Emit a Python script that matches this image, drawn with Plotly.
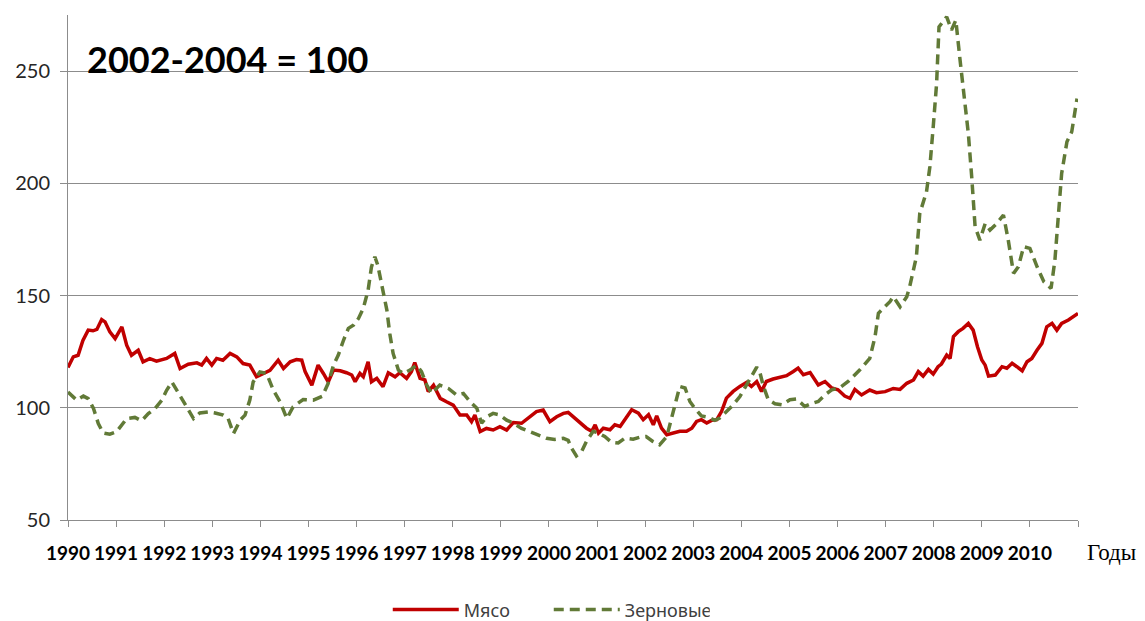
import plotly.graph_objects as go

# ---- data (decimal years, index 2002-2004 = 100) ----
meat_t = [1990.00, 1990.11, 1990.21, 1990.31, 1990.42, 1990.52, 1990.60, 1990.70, 1990.77, 1990.87,
          1990.98, 1991.12, 1991.22, 1991.32, 1991.46, 1991.56, 1991.70, 1991.84, 1992.05, 1992.22,
          1992.33, 1992.50, 1992.68, 1992.78, 1992.88, 1992.99, 1993.09, 1993.22, 1993.37, 1993.51,
          1993.64, 1993.78, 1993.92, 1994.06, 1994.20, 1994.37, 1994.48, 1994.62, 1994.75, 1994.86,
          1994.93, 1995.07, 1995.20, 1995.31, 1995.41, 1995.52, 1995.66, 1995.79, 1995.90, 1995.97,
          1996.07, 1996.14, 1996.24, 1996.31, 1996.42, 1996.55, 1996.66, 1996.80, 1996.90, 1997.04,
          1997.14, 1997.21, 1997.32, 1997.42, 1997.49, 1997.60, 1997.74, 1997.87, 1998.01, 1998.15,
          1998.29, 1998.39, 1998.46, 1998.57, 1998.70, 1998.84, 1998.98, 1999.12, 1999.26, 1999.43,
          1999.60, 1999.74, 1999.88, 2000.02, 2000.16, 2000.30, 2000.40, 2000.50, 2000.64, 2000.78,
          2000.89, 2000.96, 2001.03, 2001.13, 2001.27, 2001.37, 2001.48, 2001.58, 2001.72, 2001.86,
          2001.96, 2002.07, 2002.17, 2002.24, 2002.34, 2002.45, 2002.59, 2002.72, 2002.86, 2002.97,
          2003.07, 2003.17, 2003.28, 2003.38, 2003.49, 2003.59, 2003.69, 2003.83, 2003.97, 2004.11,
          2004.21, 2004.32, 2004.42, 2004.52, 2004.66, 2004.80, 2004.94, 2005.08, 2005.18, 2005.29,
          2005.43, 2005.60, 2005.74, 2005.88, 2006.01, 2006.15, 2006.26, 2006.36, 2006.50, 2006.67,
          2006.81, 2006.99, 2007.16, 2007.30, 2007.44, 2007.58, 2007.68, 2007.78, 2007.89, 2007.99,
          2008.09, 2008.16, 2008.27, 2008.34, 2008.41, 2008.51, 2008.61, 2008.72, 2008.82, 2008.91,
          2009.00, 2009.07, 2009.14, 2009.28, 2009.42, 2009.52, 2009.63, 2009.73, 2009.84, 2009.94,
          2010.04, 2010.15, 2010.25, 2010.35, 2010.46, 2010.56, 2010.66, 2010.80, 2010.91, 2011.00]
meat_v = [118.0, 122.7, 123.4, 130.0, 134.6, 134.3, 134.9, 139.3, 138.3, 133.8,
          130.8, 136.0, 127.9, 123.4, 125.6, 120.5, 121.9, 120.8, 122.0, 124.2,
          117.5, 119.4, 120.0, 119.0, 122.0, 119.0, 122.0, 121.2, 124.2, 122.7,
          119.7, 119.0, 113.8, 115.3, 116.7, 121.2, 117.5, 120.5, 121.5, 121.2,
          116.1, 110.1, 119.0, 115.3, 111.5, 116.8, 116.5, 115.6, 114.6, 111.6,
          115.3, 113.8, 120.5, 111.6, 113.1, 109.4, 115.6, 113.8, 115.6, 113.1,
          116.1, 120.1, 113.1, 112.4, 107.2, 110.1, 104.2, 102.7, 101.2, 96.8,
          96.8, 93.8, 96.8, 89.4, 90.8, 90.1, 91.6, 90.1, 93.4, 93.1,
          96.0, 98.3, 99.0, 93.8, 96.0, 97.5, 97.9, 96.1, 93.5, 90.9,
          89.5, 92.4, 88.7, 90.9, 90.2, 92.4, 91.7, 94.7, 99.1, 97.6,
          94.7, 96.9, 92.4, 96.4, 90.9, 88.0, 88.7, 89.5, 89.5, 90.9,
          93.9, 94.7, 93.2, 94.4, 94.7, 98.4, 104.3, 107.3, 109.5, 111.3,
          109.5, 111.7, 107.3, 111.7, 112.8, 113.5, 114.3, 116.2, 117.7, 114.7,
          115.7, 110.2, 111.7, 108.8, 108.0, 105.2, 104.2, 108.2, 105.7, 107.9,
          106.7, 107.2, 108.6, 108.2, 110.9, 112.4, 116.1, 114.1, 117.1, 115.0,
          118.3, 119.5, 123.5, 122.0, 131.7, 133.9, 135.4, 137.6, 134.6, 127.2,
          121.3, 119.0, 114.1, 114.6, 118.3, 117.6, 119.8, 118.3, 116.5, 120.5,
          122.0, 125.7, 128.7, 136.1, 137.6, 134.6, 137.6, 139.1, 140.6, 142.0]

grain_t = [1990.00, 1990.18, 1990.32, 1990.42, 1990.53, 1990.63, 1990.73, 1990.87, 1991.01, 1991.12,
           1991.22, 1991.39, 1991.53, 1991.67, 1991.81, 1991.95, 1992.05, 1992.16, 1992.26, 1992.36,
           1992.47, 1992.61, 1992.74, 1992.92, 1993.06, 1993.23, 1993.33, 1993.44, 1993.58, 1993.68,
           1993.78, 1993.85, 1993.99, 1994.13, 1994.27, 1994.41, 1994.55, 1994.68, 1994.89, 1995.10,
           1995.29, 1995.41, 1995.52, 1995.62, 1995.73, 1995.83, 1995.94, 1996.04, 1996.14, 1996.24,
           1996.31, 1996.38, 1996.44, 1996.52, 1996.63, 1996.69, 1996.76, 1996.87, 1996.97, 1997.11,
           1997.25, 1997.35, 1997.46, 1997.56, 1997.73, 1997.91, 1998.08, 1998.22, 1998.36, 1998.50,
           1998.60, 1998.71, 1998.84, 1998.98, 1999.12, 1999.26, 1999.43, 1999.60, 1999.78, 1999.95,
           2000.12, 2000.30, 2000.40, 2000.47, 2000.57, 2000.68, 2000.78, 2000.92, 2001.03, 2001.16,
           2001.30, 2001.44, 2001.58, 2001.75, 2001.89, 2002.02, 2002.16, 2002.30, 2002.45, 2002.55,
           2002.62, 2002.72, 2002.83, 2002.93, 2003.03, 2003.17, 2003.31, 2003.45, 2003.55, 2003.69,
           2003.83, 2003.97, 2004.11, 2004.21, 2004.32, 2004.39, 2004.46, 2004.56, 2004.70, 2004.84,
           2005.01, 2005.15, 2005.32, 2005.45, 2005.60, 2005.74, 2005.88, 2006.05, 2006.22, 2006.46,
           2006.67, 2006.78, 2006.85, 2006.95, 2007.09, 2007.16, 2007.30, 2007.44, 2007.50, 2007.64,
           2007.71, 2007.85, 2007.92, 2007.99, 2008.06, 2008.11, 2008.27, 2008.37, 2008.46, 2008.54,
           2008.65, 2008.72, 2008.79, 2008.86, 2008.96, 2009.07, 2009.17, 2009.31, 2009.45, 2009.55,
           2009.66, 2009.76, 2009.87, 2010.00, 2010.15, 2010.29, 2010.44, 2010.52, 2010.59, 2010.66,
           2010.77, 2010.87, 2010.98]
grain_v = [107.0, 103.4, 105.2, 104.1, 99.7, 93.0, 88.8, 88.2, 89.3, 92.2,
           95.2, 95.7, 94.2, 97.4, 99.7, 103.4, 107.8, 111.5, 107.8, 104.8,
           100.4, 95.2, 97.7, 98.2, 97.7, 96.7, 95.2, 88.5, 94.5, 96.7,
           103.4, 111.5, 116.0, 115.3, 107.8, 102.6, 95.2, 100.4, 103.7, 103.4,
           105.2, 110.9, 119.0, 123.5, 130.2, 135.4, 136.9, 139.8, 144.3, 152.4,
           162.8, 167.3, 163.6, 155.4, 143.5, 133.1, 124.2, 116.8, 115.3, 116.8,
           119.0, 116.1, 110.1, 106.4, 110.1, 108.6, 105.7, 106.4, 102.7, 99.8,
           93.1, 96.0, 97.5, 96.8, 94.5, 93.1, 90.8, 89.4, 87.9, 86.4,
           85.9, 86.4, 85.5, 82.0, 78.6, 80.5, 85.0, 89.5, 88.7, 87.2,
           84.6, 84.3, 86.5, 86.0, 86.9, 87.2, 85.0, 83.5, 87.2, 95.4,
           101.3, 109.5, 108.8, 102.8, 99.9, 96.4, 95.8, 94.4, 95.4, 98.4,
           101.3, 105.0, 110.2, 114.0, 118.1, 115.4, 109.5, 103.6, 101.8, 101.3,
           103.6, 103.9, 100.6, 101.8, 102.8, 105.8, 108.0, 109.0, 111.7, 116.8,
           122.0, 131.7, 142.1, 144.3, 147.3, 149.5, 145.0, 149.5, 153.9, 167.3,
           186.6, 196.2, 207.4, 225.2, 244.5, 269.7, 274.2, 268.3, 272.7, 256.4,
           237.1, 222.2, 202.9, 180.7, 174.7, 182.1, 179.2, 182.1, 185.9, 174.7,
           159.9, 162.8, 171.8, 171.0, 162.8, 156.2, 153.2, 165.8, 185.1, 204.4,
           218.5, 223.0, 237.8]

series_names = ["Мясо", "Зерновые"]
year_ticks = list(range(1990, 2012))
year_labels = [str(y) for y in range(1990, 2011)] + [""]
y_ticks = [50, 100, 150, 200, 250]
base_note = "2002-2004 = 100"
x_title = "Годы"

fig = go.Figure()
fig.add_trace(go.Scatter(x=meat_t, y=meat_v, mode="lines", name=series_names[0],
                         line=dict(color="#C00000", width=3.5)))
fig.add_trace(go.Scatter(x=grain_t, y=grain_v, mode="lines", name=series_names[1],
                         line=dict(color="#617A37", width=3.5, dash="10px,6px")))

# page body has an 8px default margin, so the figure is 8px smaller and offset
fig.update_layout(
    width=1137, height=613,
    margin=dict(l=60, r=67, t=7, b=101, autoexpand=False),
    plot_bgcolor="white", paper_bgcolor="white",
    showlegend=True,
    legend=dict(orientation="h", x=0.476, xanchor="center", y=-0.178, yanchor="middle",
                font=dict(family="Noto Sans", size=18, color="#404040"),
                itemwidth=66, entrywidth=80, traceorder="normal"),
    xaxis=dict(range=[1990, 2011], tickmode="array", tickvals=year_ticks, ticktext=year_labels,
               showgrid=False, zeroline=False, showline=True, linecolor="#8C8C8C", linewidth=1,
               ticks="outside", ticklen=6, tickcolor="#8C8C8C",
               tickfont=dict(family="Lato", size=19, color="black", weight="bold"),
               ticklabelstandoff=10),
    yaxis=dict(range=[50, 275], tickmode="array", tickvals=y_ticks,
               showgrid=True, gridcolor="#8C8C8C", gridwidth=1, zeroline=False,
               showline=True, linecolor="#8C8C8C", linewidth=1,
               ticks="outside", ticklen=7, tickcolor="#8C8C8C",
               tickfont=dict(family="Lato", size=20, color="#262626"),
               ticklabelstandoff=6),
    annotations=[
        dict(text=base_note, xref="paper", yref="paper", x=0.017, y=0.913,
             xanchor="left", yanchor="middle", showarrow=False,
             font=dict(family="Lato", size=36, color="black", weight="bold")),
        dict(text=x_title, xref="paper", yref="paper", x=1.007, y=-0.065,
             xanchor="left", yanchor="middle", showarrow=False,
             font=dict(family="Liberation Serif", size=23, color="black")),
    ],
)

fig.write_html("out.html")
